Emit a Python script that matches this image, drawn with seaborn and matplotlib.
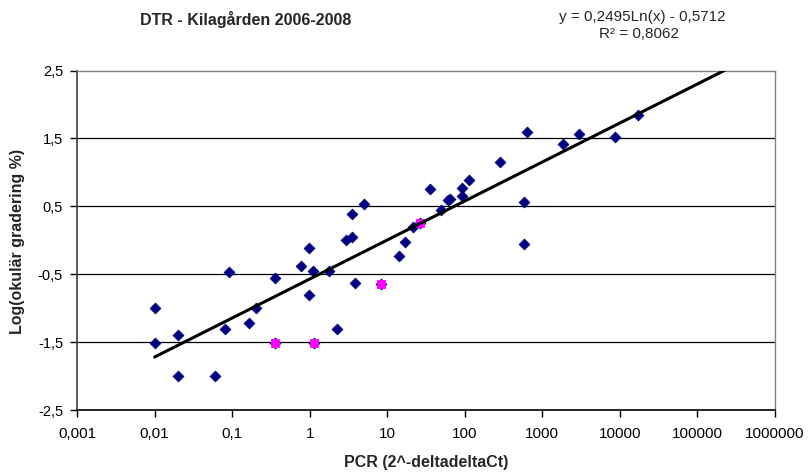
import numpy as np
import pandas as pd
import matplotlib
matplotlib.use("Agg")
import matplotlib.pyplot as plt
import seaborn as sns
from matplotlib.ticker import FixedLocator, FixedFormatter, NullLocator

# ---- data ----
pcr_navy = [0.01, 0.01, 0.02, 0.02, 0.06, 0.08, 0.092, 0.164, 0.204, 0.356,
            0.356, 0.764, 0.97, 1.1, 0.97, 1.13, 1.8, 2.24, 2.93, 3.47,
            3.47, 5.0, 3.83, 8.3, 14.3, 17.2, 21.4, 26.3, 35.5, 49.8,
            60.0, 65.0, 93.0, 93.0, 113.0, 281.0, 580.0, 580.0, 635.0, 1850.0,
            2990.0, 8700.0, 16900.0]
log_grad_navy = [-1.0, -1.52, -1.40, -2.0, -2.0, -1.30, -0.47, -1.22, -1.0, -0.56,
                 -1.52, -0.38, -0.12, -0.45, -0.80, -1.52, -0.45, -1.30, 0.0, 0.05,
                 0.39, 0.53, -0.63, -0.64, -0.235, -0.03, 0.19, 0.26, 0.76, 0.44,
                 0.60, 0.61, 0.65, 0.77, 0.89, 1.15, 0.56, -0.05, 1.59, 1.42,
                 1.57, 1.52, 1.85]

pcr_magenta = [0.356, 1.13, 8.3, 26.3]
log_grad_magenta = [-1.52, -1.52, -0.64, 0.26]

trend_slope = 0.2495
trend_intercept = -0.5712
trend_x_range = [0.01, 230000.0]

x_ticks = [0.001, 0.01, 0.1, 1, 10, 100, 1000, 10000, 100000, 1000000]
x_tick_labels = ["0,001", "0,01", "0,1", "1", "10", "100", "1000", "10000",
                 "100000", "1000000"]
y_ticks = [-2.5, -1.5, -0.5, 0.5, 1.5, 2.5]
y_tick_labels = ["-2,5", "-1,5", "-0,5", "0,5", "1,5", "2,5"]

title = "DTR - Kilagården 2006-2008"
eq_text = "y = 0,2495Ln(x) - 0,5712"
r2_text = "R² = 0,8062"
x_label = "PCR (2^-deltadeltaCt)"
y_label = "Log(okulär gradering %)"

# ---- styling ----
sns.set_style("white")
plt.rcParams['font.family'] = ['Liberation Sans', 'DejaVu Sans']

W, H = 808, 474
fig = plt.figure(figsize=(W / 100, H / 100), dpi=100)
left, right, top, bottom = 77, 775, 70.5, 410
ax = fig.add_axes([left / W, 1 - bottom / H, (right - left) / W, (bottom - top) / H])

ax.set_xscale('log')
ax.set_xlim(x_ticks[0], x_ticks[-1])
ax.set_ylim(y_ticks[0], y_ticks[-1])

# gridlines
for yv in y_ticks[1:-1]:
    ax.axhline(yv, color='black', lw=0.9, zorder=1)

# points
navy = pd.DataFrame({'pcr': pcr_navy, 'grad': log_grad_navy})
mag = pd.DataFrame({'pcr': pcr_magenta, 'grad': log_grad_magenta})
sns.scatterplot(data=navy, x='pcr', y='grad', marker='D', s=30, color='#000080',
                edgecolor='#000080', linewidth=0.6, ax=ax, zorder=3)
sns.scatterplot(data=mag, x='pcr', y='grad', marker='s', s=40, color='#FF00FF',
                edgecolor='#FF00FF', linewidth=0.6, ax=ax, zorder=4)

# trendline (logarithmic, as shown by the chart equation)
tx = np.array(trend_x_range)
trend = pd.DataFrame({'x': tx, 'y': trend_slope * np.log(tx) + trend_intercept})
sns.lineplot(data=trend, x='x', y='y', color='black', lw=2.2, ax=ax, zorder=5)

# axes cosmetics
ax.xaxis.set_major_locator(FixedLocator(x_ticks))
ax.xaxis.set_major_formatter(FixedFormatter(x_tick_labels))
ax.xaxis.set_minor_locator(NullLocator())
ax.yaxis.set_major_locator(FixedLocator(y_ticks))
ax.yaxis.set_major_formatter(FixedFormatter(y_tick_labels))
ax.tick_params(axis='both', which='major', direction='out', length=5, width=1,
               colors='black', bottom=True, left=True)
ax.tick_params(axis='x', pad=7, labelsize=11)
ax.tick_params(axis='y', pad=5, labelsize=10.5)
ax.set_xlabel('')
ax.set_ylabel('')
ax.grid(False)

for side in ['top', 'right']:
    ax.spines[side].set_color('#808080')
    ax.spines[side].set_linewidth(1.0)
ax.spines['left'].set_color('#404040')
ax.spines['left'].set_linewidth(1.2)
ax.spines['bottom'].set_color('black')
ax.spines['bottom'].set_linewidth(1.2)

# texts
fig.text(246 / W, 1 - 20 / H, title, ha='center', va='center', fontsize=11.5,
         fontweight='bold')
fig.text(642 / W, 1 - 17 / H, eq_text, ha='center', va='center', fontsize=11)
fig.text(639 / W, 1 - 34 / H, r2_text, ha='center', va='center', fontsize=11)
fig.text(426 / W, 1 - 462 / H, x_label, ha='center', va='center', fontsize=11.5,
         fontweight='bold')
fig.text(18 / W, 1 - 241 / H, y_label, ha='center', va='center', fontsize=11.5,
         fontweight='bold', rotation=90)

fig.savefig('out.png', dpi=100)
